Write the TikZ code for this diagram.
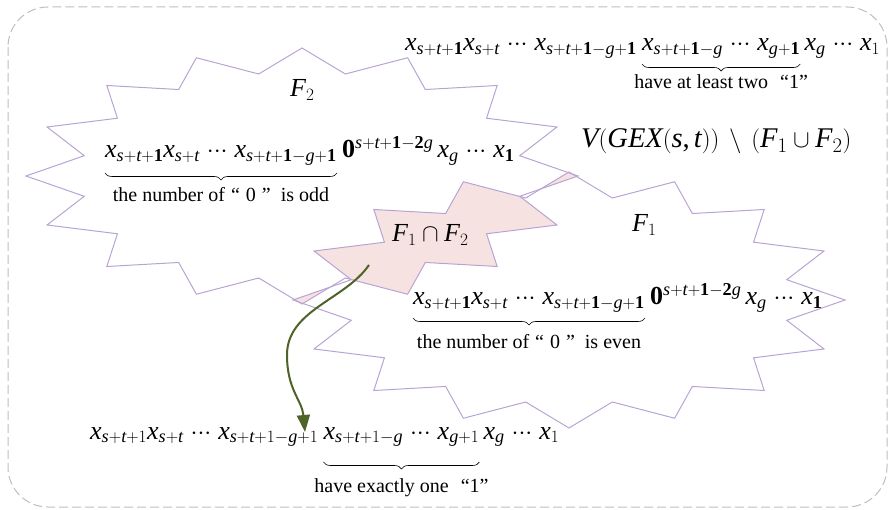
\documentclass[tikz,border=0pt]{standalone}
\usepackage{fontspec}
\setmainfont{Liberation Serif}
\usetikzlibrary{decorations.pathreplacing,arrows.meta}
\DeclareSymbolFont{lsit}{TU}{\rmdefault}{m}{it}
\DeclareSymbolFont{lsrm}{TU}{\rmdefault}{m}{n}
\DeclareSymbolFont{lsbf}{TU}{\rmdefault}{\bfdefault}{n}
\DeclareMathSymbol{x}{\mathalpha}{lsit}{`x}
\DeclareMathSymbol{s}{\mathalpha}{lsit}{`s}
\DeclareMathSymbol{t}{\mathalpha}{lsit}{`t}
\DeclareMathSymbol{g}{\mathalpha}{lsit}{`g}
\DeclareMathSymbol{F}{\mathalpha}{lsit}{`F}
\DeclareMathSymbol{V}{\mathalpha}{lsit}{`V}
\DeclareMathSymbol{G}{\mathalpha}{lsit}{`G}
\DeclareMathSymbol{E}{\mathalpha}{lsit}{`E}
\DeclareMathSymbol{X}{\mathalpha}{lsit}{`X}
\DeclareMathSymbol{0}{\mathalpha}{lsrm}{`0}
\DeclareMathSymbol{1}{\mathalpha}{lsrm}{`1}
\DeclareMathSymbol{2}{\mathalpha}{lsrm}{`2}
\DeclareMathSymbol{+}{\mathbin}{lsrm}{`+}
\DeclareMathSymbol{(}{\mathopen}{lsrm}{`(}
\DeclareMathSymbol{)}{\mathclose}{lsrm}{`)}
\DeclareMathSymbol{,}{\mathpunct}{lsrm}{`,}
\DeclareMathSymbol{\bone}{\mathalpha}{lsbf}{`1}
\DeclareMathSymbol{\btwo}{\mathalpha}{lsbf}{`2}
\DeclareMathSymbol{\bzero}{\mathalpha}{lsbf}{`0}
\newcommand\dts{\mathinner{\mkern2mu{\cdotp}{\cdotp}{\cdotp}\mkern2mu}}
\definecolor{starln}{RGB}{184,164,212}
\definecolor{pinkf}{RGB}{246,226,224}
\definecolor{olivearr}{RGB}{79,98,40}
\definecolor{bordergray}{RGB}{190,190,190}
\newcommand\starpath[2]{plot[samples at={0,1,...,31},variable=\k] ({#1+(iseven(\k)?276:222)*sin(\k*11.25)},{#2-(iseven(\k)?128:104)*cos(\k*11.25)}) -- cycle}
\tikzset{
  mt/.style={inner sep=0pt,font=\fontsize{26}{30}\selectfont},
  flbl/.style={inner sep=0pt,font=\fontsize{26}{30}\selectfont},
  lbl/.style={inner sep=0pt,font=\fontsize{20}{23}\selectfont},
  brc/.style={decorate,decoration={brace,amplitude=7pt},line width=0.6pt},
  starline/.style={draw=starln,line width=1pt},
  border/.style={draw=bordergray,line width=1pt,dash pattern=on 9pt off 4pt,rounded corners=40pt},
  arr/.style={draw=olivearr,line width=2pt,-{Triangle[length=17pt,width=13pt]}}
}
\begin{document}
\begin{tikzpicture}[x=1pt,y=-1pt]
\useasboundingbox (0,0) rectangle (889,510);
\draw[border] (8,7) rectangle (887,507);
% intersection
\begin{scope}
\clip \starpath{302}{176};
\fill[pinkf] \starpath{569}{300};
\end{scope}
\draw[starline] \starpath{302}{176};
\draw[starline] \starpath{569}{300};
% labels
\node[flbl,anchor=base west] (f2) at (290,97) {$F_2$};
\node[flbl,anchor=base west] (f1) at (632,232) {$F_1$};
\node[flbl,anchor=base west] (f12) at (392,242) {$F_1\cap F_2$};
\node[flbl,anchor=base west,font=\fontsize{28.5}{32}\selectfont] (vv) at (581,148) {$V(GEX(s,t))\mathbin{\mkern3mu\setminus\mkern3mu}(F_1\cup F_2)$};
% top line
\node[mt,anchor=base west] (tA) at (405,51) {$x_{s+t+\bone}x_{s+t}\dts x_{s+t+\bone-g+\bone}$};
\node[mt,anchor=base west] (tB) at ([xshift=5pt]tA.base east) {$x_{s+t+\bone-g}\dts x_{g+\bone}$};
\node[mt,anchor=base west] (tC) at ([xshift=4pt]tB.base east) {$x_g\dts x_1$};
\draw[brc] ([yshift=-13pt]tB.base east) -- ([yshift=-13pt]tB.base west);
\node[lbl,anchor=north] (tL) at ([yshift=-23pt]tB.base) {have at least two\hspace{0.6em}“1”};
% F2 inner
\node[mt,anchor=base west] (aA) at (105,158) {$x_{s+t+\bone}x_{s+t}\dts x_{s+t+\bone-g+\bone}$};
\node[mt,anchor=base west] (aC) at ([xshift=5pt]aA.base east) {$\bzero^{s+t+\bone-\btwo g}\,x_g\dts x_{\bone}$};
\draw[brc] ([yshift=-15pt]aA.base east) -- ([yshift=-15pt]aA.base west);
\node[lbl,anchor=north] (aL) at ([yshift=-29pt]aA.base) {the number of\hspace{0.3em}“\hspace{0.3em}0\hspace{0.3em}”\hspace{0.5em}is odd};
% F1 inner
\node[mt,anchor=base west] (bA) at (413,305) {$x_{s+t+\bone}x_{s+t}\dts x_{s+t+\bone-g+\bone}$};
\node[mt,anchor=base west] (bC) at ([xshift=5pt]bA.base east) {$\bzero^{s+t+\bone-\btwo g}\,x_g\dts x_{\bone}$};
\draw[brc] ([yshift=-13pt]bA.base east) -- ([yshift=-13pt]bA.base west);
\node[lbl,anchor=north] (bL) at ([yshift=-29pt]bA.base) {the number of\hspace{0.3em}“\hspace{0.3em}0\hspace{0.3em}”\hspace{0.5em}is even};
% bottom line
\node[mt,anchor=base west] (cA) at (90,439) {$x_{s+t+1}x_{s+t}\dts x_{s+t+1-g+1}$};
\node[mt,anchor=base west] (cB) at ([xshift=5pt]cA.base east) {$x_{s+t+1-g}\dts x_{g+1}$};
\node[mt,anchor=base west] (cC) at ([xshift=4pt]cB.base east) {$x_g\dts x_1$};
\draw[brc] ([yshift=-23pt]cB.base east) -- ([yshift=-23pt]cB.base west);
\node[lbl,anchor=north] (cL) at ([yshift=-39pt]cB.base) {have exactly one\hspace{0.6em}“1”};
% arrow
\coordinate (a0) at (369,265);
\coordinate (a1) at (305,432);
\draw[arr] (a0) .. controls (345,300) and (287,310) .. (287,355) .. controls (287,390) and (302,400) .. (a1);
\end{tikzpicture}
\end{document}
